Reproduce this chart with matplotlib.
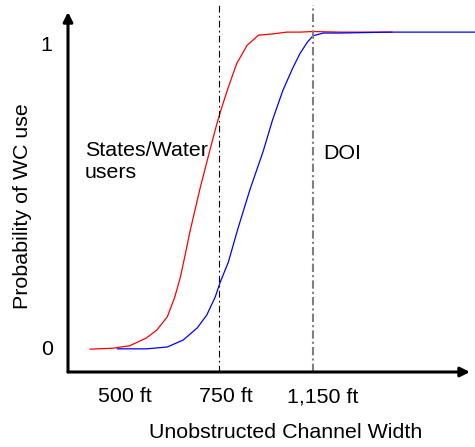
import matplotlib.pyplot as plt

plt.rcParams['font.family'] = ['Liberation Sans', 'DejaVu Sans']

# x positions: 1 = 500 ft, 2 = 750 ft, 3 = 1,150 ft (schematic axis)
red_x = [0.63, 0.87, 1.05, 1.23, 1.34, 1.45, 1.53, 1.59, 1.64, 1.69, 1.80, 1.90,
         1.98, 2.02, 2.10, 2.19, 2.30, 2.42, 2.57, 2.72, 2.86, 3.00, 3.29, 3.84]
red_y = [-0.004, -0.001, 0.007, 0.033, 0.059, 0.102, 0.167, 0.233, 0.305, 0.38,
         0.525, 0.645, 0.738, 0.78, 0.856, 0.934, 0.993, 1.026, 1.030, 1.036,
         1.036, 1.038, 1.036, 1.036]

blue_x = [0.92, 1.23, 1.45, 1.62, 1.77, 1.87, 1.96, 2.01, 2.10, 2.20, 2.33, 2.47,
          2.57, 2.68, 2.78, 2.86, 2.94, 3.00, 3.11, 3.29, 3.82, 4.72]
blue_y = [-0.003, -0.003, 0.003, 0.026, 0.066, 0.108, 0.167, 0.213, 0.282, 0.39,
          0.52, 0.645, 0.748, 0.845, 0.915, 0.965, 1.003, 1.024, 1.033, 1.033,
          1.036, 1.036]

tick_pos = [1.0, 2.07, 3.1]
tick_labels = ["500 ft", "750 ft", "1,150 ft"]
cutoffs = [2.0, 3.0]

fig = plt.figure(figsize=(4.75, 4.47), dpi=100)
ax = fig.add_axes([68 / 475, 75 / 447, 402 / 475, 360 / 447])
ax.set_xlim(0.394, 4.67)
ax.set_ylim(-0.079, 1.102)

ax.plot(red_x, red_y, color="#ff0000", lw=0.9, clip_on=False,
        solid_joinstyle="round")
ax.plot(blue_x, blue_y, color="#0000ff", lw=0.9, clip_on=False,
        solid_joinstyle="round")

ax.plot([cutoffs[0], cutoffs[0]], [-0.079, 1.125], color="black", lw=0.8,
        linestyle=(0, (6, 3, 1.5, 3)), clip_on=False)
ax.plot([cutoffs[1], cutoffs[1]], [-0.079, 1.125], color="#808080", lw=1.5,
        linestyle=(0, (4, 1.5, 1, 1.5)), clip_on=False)

for s in ax.spines.values():
    s.set_visible(False)
ax.annotate("", xy=(0, 1), xytext=(0, 0), xycoords="axes fraction",
            arrowprops=dict(arrowstyle="-|>", lw=2.2, color="black",
                            mutation_scale=14, shrinkA=0, shrinkB=0))
ax.annotate("", xy=(1, 0), xytext=(0, 0), xycoords="axes fraction",
            arrowprops=dict(arrowstyle="-|>", lw=2.2, color="black",
                            mutation_scale=14, shrinkA=0, shrinkB=0))

ax.set_xticks(tick_pos)
ax.set_xticklabels(tick_labels)
ax.set_yticks([0, 1])
ax.set_yticklabels(["0", "1"])
ax.tick_params(length=0, labelsize=15.4)
ax.tick_params(axis="x", pad=11)
ax.tick_params(axis="y", pad=11)

ax.text(0.574, 0.68, "States/Water\nusers", fontsize=15.4, va="top", ha="left")
ax.text(3.106, 0.62, "DOI", fontsize=15.4, va="baseline", ha="left")

fig.text(286 / 475, 1 - 432 / 447, "Unobstructed Channel Width", fontsize=15.4,
         ha="center", va="center")
fig.text(23 / 475, 1 - 206 / 447, "Probability of WC use", fontsize=15.4,
         ha="center", va="center", rotation=90)

fig.savefig("out.png", dpi=100)
